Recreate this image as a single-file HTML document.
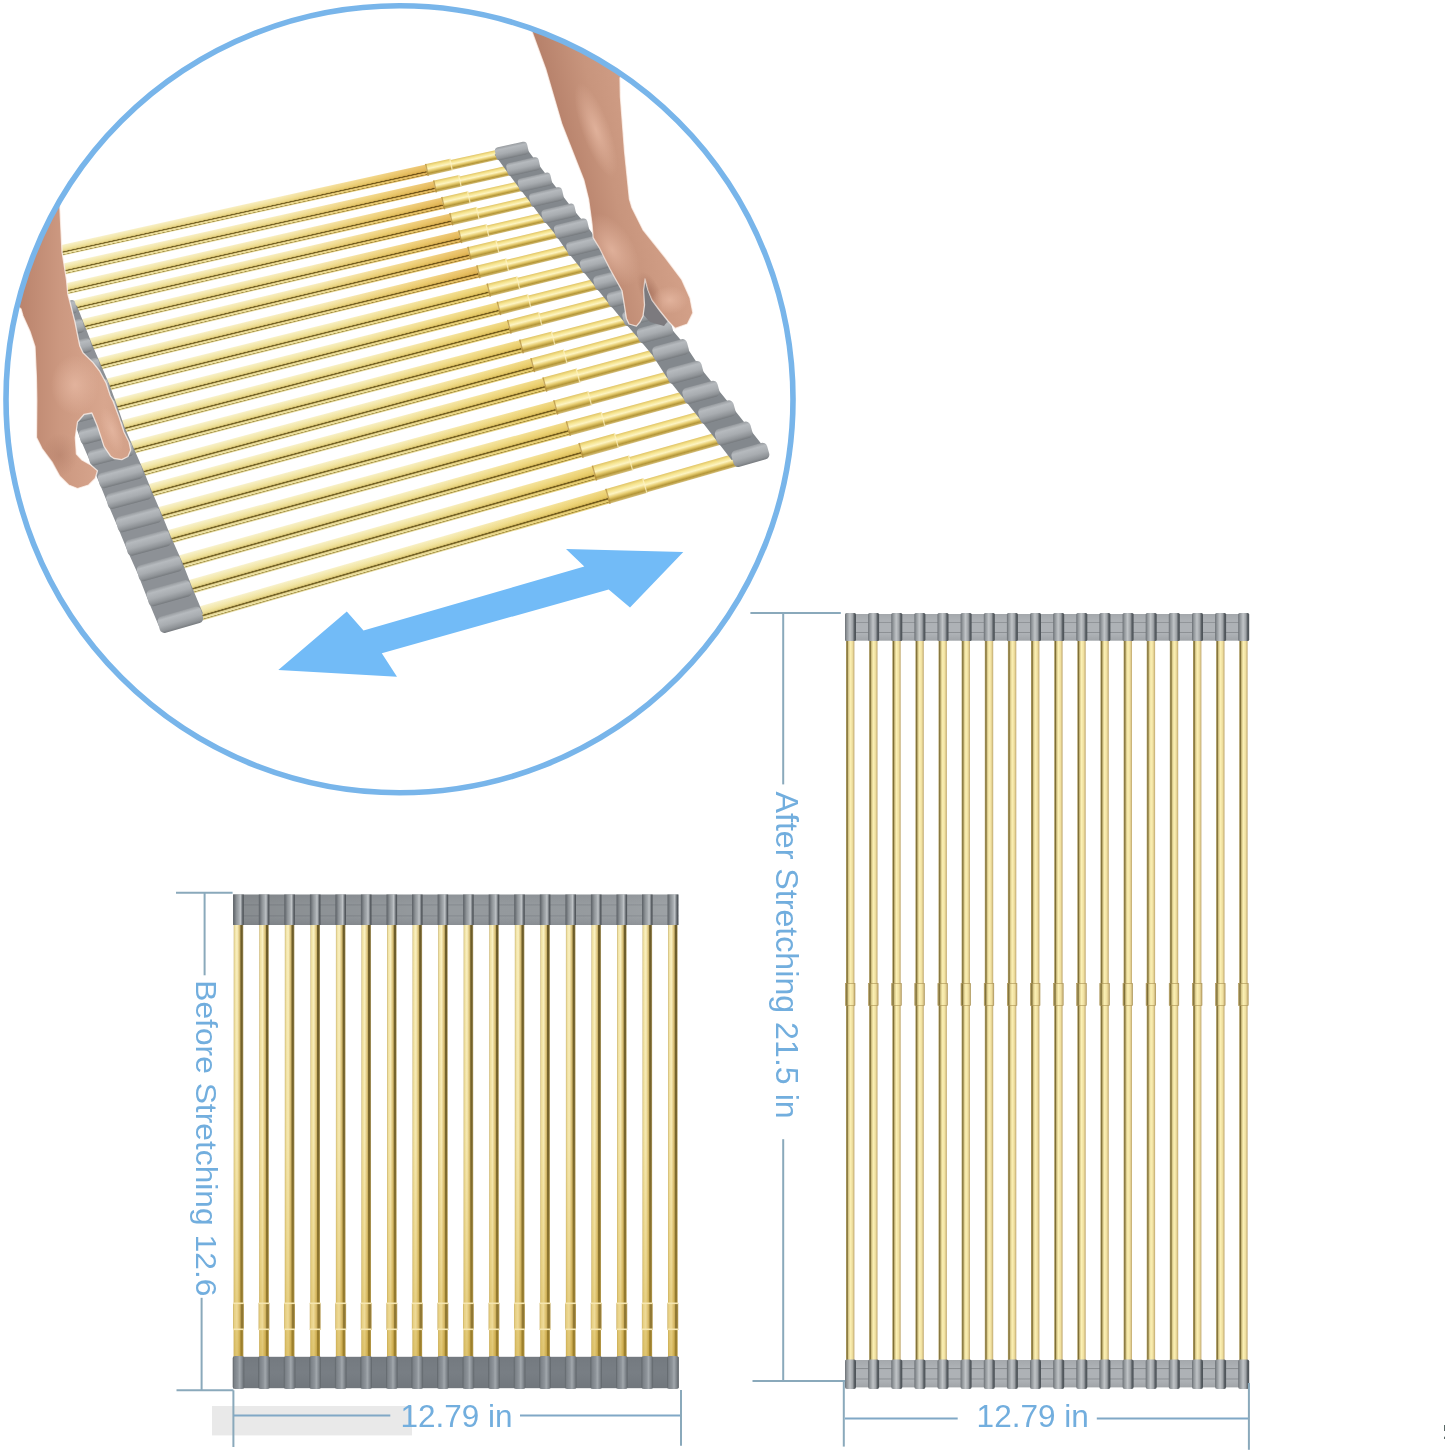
<!DOCTYPE html>
<html><head><meta charset="utf-8"><title>Roll-up dish drying rack</title>
<style>html,body{margin:0;padding:0;background:#fff;}svg{display:block;filter:blur(0.45px);}</style></head>
<body>
<svg width="1445" height="1452" viewBox="0 0 1445 1452">
<defs>
<linearGradient id="rodT" x1="0" y1="0" x2="0" y2="1">
 <stop offset="0" stop-color="#f8f2d0"/>
 <stop offset="0.12" stop-color="#f6eec0"/>
 <stop offset="0.35" stop-color="#f2e6a8"/>
 <stop offset="0.52" stop-color="#eadb92"/>
 <stop offset="0.6" stop-color="#d4c074"/>
 <stop offset="0.64" stop-color="#6c5c22"/>
 <stop offset="0.7" stop-color="#857232"/>
 <stop offset="0.75" stop-color="#e4d696"/>
 <stop offset="0.86" stop-color="#eee4aa"/>
 <stop offset="0.9" stop-color="#a08e46"/>
 <stop offset="0.95" stop-color="#dcd094"/>
 <stop offset="1" stop-color="#eee6bc"/>
</linearGradient>
<linearGradient id="rodG" x1="0" y1="0" x2="0" y2="1">
 <stop offset="0" stop-color="#e0c468"/>
 <stop offset="0.2" stop-color="#f6e48e"/>
 <stop offset="0.42" stop-color="#fdf4c2"/>
 <stop offset="0.62" stop-color="#e6cc70"/>
 <stop offset="0.82" stop-color="#b49638"/>
 <stop offset="1" stop-color="#d6c07c"/>
</linearGradient>
<linearGradient id="goldU" x1="0" y1="0" x2="1" y2="0">
 <stop offset="0" stop-color="#ffffff"/>
 <stop offset="0.6" stop-color="#fffaec"/>
 <stop offset="0.85" stop-color="#fae4b0"/>
 <stop offset="1" stop-color="#f4d090"/>
</linearGradient>
<linearGradient id="goldL" x1="0" y1="0" x2="1" y2="0">
 <stop offset="0" stop-color="#ffffff"/>
 <stop offset="0.6" stop-color="#fffdf2"/>
 <stop offset="0.85" stop-color="#fcf0c4"/>
 <stop offset="1" stop-color="#f8e6a8"/>
</linearGradient>
<linearGradient id="tubeT" x1="0" y1="0" x2="0" y2="1">
 <stop offset="0" stop-color="#989ca0"/>
 <stop offset="0.2" stop-color="#b6babe"/>
 <stop offset="0.55" stop-color="#a8acb0"/>
 <stop offset="0.85" stop-color="#8e9296"/>
 <stop offset="1" stop-color="#767a7e"/>
</linearGradient>
<linearGradient id="skinR" gradientUnits="userSpaceOnUse" x1="530" y1="60" x2="700" y2="20">
 <stop offset="0" stop-color="#b27c66"/>
 <stop offset="0.3" stop-color="#c8957d"/>
 <stop offset="0.6" stop-color="#d4a189"/>
 <stop offset="1" stop-color="#d9a890"/>
</linearGradient>
<linearGradient id="skinL" gradientUnits="userSpaceOnUse" x1="10" y1="0" x2="135" y2="0">
 <stop offset="0" stop-color="#b67f68"/>
 <stop offset="0.4" stop-color="#cc9880"/>
 <stop offset="0.75" stop-color="#d8a68e"/>
 <stop offset="1" stop-color="#d2a088"/>
</linearGradient>
<radialGradient id="hl" cx="0.5" cy="0.5" r="0.5">
 <stop offset="0" stop-color="#e6b8a2" stop-opacity="0.8"/>
 <stop offset="1" stop-color="#e6b8a2" stop-opacity="0"/>
</radialGradient>
<radialGradient id="sh" cx="0.5" cy="0.5" r="0.5">
 <stop offset="0" stop-color="#9a6450" stop-opacity="0.55"/>
 <stop offset="1" stop-color="#9a6450" stop-opacity="0"/>
</radialGradient>
<clipPath id="rhc"><polygon id="rhpoly" points="522,10 640,40 620,78 620.4,97 624.6,152 629.4,199 632,207.7 643,229.8 665.2,257.5 681.8,279.7 690,298 692.9,312.9 687.4,324 675.2,328.4 668,321 660,311 652,300 648,290 645,279 643.5,290 644.5,305 643,316 640,322 636.4,326.2 629,324 626.4,318.4 624,303 622,290.7 615,278 609.8,268.6 599.9,248.7 593.2,237.6 592,224 588.6,199.3 583.8,180 562,124.6 545.7,69 532.5,33"/></clipPath>
<clipPath id="lhc"><polygon points="0,150 58,150 60,210 62,251.6 66.5,280 67.8,294 69.8,301.5 74.8,321.3 79.8,346 83,352.7 93,362.6 99.6,371 106.2,383.3 110.3,395.7 113,401 118.5,415.4 124,432 129,442 130.7,450 128,456.5 121.8,459.7 114,458.5 110.7,456.3 104,446.4 97.5,426.4 91.9,413 84.2,414.3 77.5,422 75.3,437.5 76.4,454 82,460 90.8,465 97.5,470.7 95.2,478.5 88.6,485 77.5,488.5 68.7,485 59.8,476.3 52,461.9 42,448.6 36.5,437.5 36.8,400 36.4,377 35,346.7 30,331.5 23,316 21,309 0,290"/></clipPath>
<clipPath id="circ"><circle cx="399.5" cy="399.3" r="393"/></clipPath>


<linearGradient id="rodV1" x1="0" y1="0" x2="1" y2="0">
 <stop offset="0" stop-color="#c9b476"/>
 <stop offset="0.12" stop-color="#f0e2a4"/>
 <stop offset="0.35" stop-color="#fbf2c4"/>
 <stop offset="0.55" stop-color="#e2cc88"/>
 <stop offset="0.66" stop-color="#c8b06a"/>
 <stop offset="0.74" stop-color="#6e5e2a"/>
 <stop offset="0.88" stop-color="#6a5a28"/>
 <stop offset="1" stop-color="#b6a676"/>
</linearGradient>
<linearGradient id="rodV1g" x1="0" y1="0" x2="0" y2="1">
 <stop offset="0" stop-color="#d8b040" stop-opacity="0"/>
 <stop offset="0.5" stop-color="#d8b040" stop-opacity="0.12"/>
 <stop offset="0.8" stop-color="#d0a838" stop-opacity="0.35"/>
 <stop offset="1" stop-color="#c8a030" stop-opacity="0.55"/>
</linearGradient>
<linearGradient id="rodV2" x1="0" y1="0" x2="1" y2="0">
 <stop offset="0" stop-color="#b8a870"/>
 <stop offset="0.15" stop-color="#7c6c34"/>
 <stop offset="0.3" stop-color="#d8c888"/>
 <stop offset="0.5" stop-color="#fbf0b4"/>
 <stop offset="0.75" stop-color="#f0e0a0"/>
 <stop offset="1" stop-color="#c0a870"/>
</linearGradient>
<linearGradient id="sleeveV" x1="0" y1="0" x2="1" y2="0">
 <stop offset="0" stop-color="#5c6166"/>
 <stop offset="0.12" stop-color="#6e7378"/>
 <stop offset="0.3" stop-color="#8d9296"/>
 <stop offset="0.55" stop-color="#a8adb1"/>
 <stop offset="0.68" stop-color="#c0c4c7"/>
 <stop offset="0.8" stop-color="#8a8f94"/>
 <stop offset="0.9" stop-color="#5a5f64"/>
 <stop offset="1" stop-color="#4e5358"/>
</linearGradient>
<linearGradient id="sleeveB" x1="0" y1="0" x2="1" y2="0">
 <stop offset="0" stop-color="#5e6469"/>
 <stop offset="0.15" stop-color="#7c8288"/>
 <stop offset="0.45" stop-color="#8e949a"/>
 <stop offset="0.6" stop-color="#a2a8ad"/>
 <stop offset="0.8" stop-color="#848a90"/>
 <stop offset="1" stop-color="#5e6469"/>
</linearGradient>
<linearGradient id="sleeveR" x1="0" y1="0" x2="1" y2="0">
 <stop offset="0" stop-color="#6a6f74"/>
 <stop offset="0.15" stop-color="#8e9397"/>
 <stop offset="0.45" stop-color="#c0c4c7"/>
 <stop offset="0.7" stop-color="#9ea2a6"/>
 <stop offset="0.85" stop-color="#5a6065"/>
 <stop offset="1" stop-color="#4a5055"/>
</linearGradient>
<linearGradient id="stripR" x1="0" y1="0" x2="0" y2="1">
 <stop offset="0" stop-color="#a4a8ac"/>
 <stop offset="0.28" stop-color="#aeb2b6"/>
 <stop offset="0.31" stop-color="#8a8e92"/>
 <stop offset="0.35" stop-color="#aeb2b6"/>
 <stop offset="0.66" stop-color="#aeb2b6"/>
 <stop offset="0.69" stop-color="#8a8e92"/>
 <stop offset="0.73" stop-color="#aeb2b6"/>
 <stop offset="1" stop-color="#a0a4a8"/>
</linearGradient>
<linearGradient id="stripShade" x1="0" y1="0" x2="1" y2="0">
 <stop offset="0" stop-color="#000" stop-opacity="0.1"/>
 <stop offset="0.5" stop-color="#000" stop-opacity="0"/>
 <stop offset="1" stop-color="#fff" stop-opacity="0.08"/>
</linearGradient>
<linearGradient id="stripB" x1="0" y1="0" x2="0" y2="1">
 <stop offset="0" stop-color="#747a80"/>
 <stop offset="0.5" stop-color="#787e84"/>
 <stop offset="1" stop-color="#71777d"/>
</linearGradient>
<linearGradient id="stripH" x1="0" y1="0" x2="0" y2="1">
 <stop offset="0" stop-color="#8e9398"/>
 <stop offset="0.3" stop-color="#969b9f"/>
 <stop offset="0.34" stop-color="#878c91"/>
 <stop offset="0.38" stop-color="#969b9f"/>
 <stop offset="0.66" stop-color="#969b9f"/>
 <stop offset="0.7" stop-color="#878c91"/>
 <stop offset="0.74" stop-color="#969b9f"/>
 <stop offset="1" stop-color="#8a8f94"/>
</linearGradient>
</defs>
<rect width="1445" height="1452" fill="#ffffff"/>
<g clip-path="url(#circ)">
<g transform="translate(50,253) rotate(-12.438)"><rect x="0" y="-5.5" width="386.3" height="11" fill="url(#rodT)"/><rect x="0" y="-5.5" width="386.3" height="11" fill="url(#goldU)" style="mix-blend-mode:multiply"/><rect x="385.3" y="-5.8" width="26" height="11.6" fill="url(#rodG)"/><rect x="385.3" y="-6.1" width="1.4" height="12.2" fill="#b08a3a" opacity="0.7"/><rect x="410.1" y="-6.1" width="1.2" height="12.2" fill="#fff4c0" opacity="0.8"/><rect x="411.3" y="-4.5" width="48" height="9.9" fill="url(#rodG)"/></g>
<g transform="translate(52,271.7) rotate(-12.549)"><rect x="0" y="-5.6" width="392.7" height="11.2" fill="url(#rodT)"/><rect x="0" y="-5.6" width="392.7" height="11.2" fill="url(#goldU)" style="mix-blend-mode:multiply"/><rect x="391.7" y="-5.9" width="26.8" height="11.8" fill="url(#rodG)"/><rect x="391.7" y="-6.2" width="1.4" height="12.4" fill="#b08a3a" opacity="0.7"/><rect x="417.3" y="-6.2" width="1.2" height="12.4" fill="#fff4c0" opacity="0.8"/><rect x="418.5" y="-4.5" width="50.7" height="10.1" fill="url(#rodG)"/></g>
<g transform="translate(55,291.5) rotate(-12.820)"><rect x="0" y="-5.7" width="398.4" height="11.4" fill="url(#rodT)"/><rect x="0" y="-5.7" width="398.4" height="11.4" fill="url(#goldU)" style="mix-blend-mode:multiply"/><rect x="397.4" y="-6" width="27.6" height="12" fill="url(#rodG)"/><rect x="397.4" y="-6.3" width="1.4" height="12.6" fill="#b08a3a" opacity="0.7"/><rect x="423.8" y="-6.3" width="1.2" height="12.6" fill="#fff4c0" opacity="0.8"/><rect x="425" y="-4.6" width="53.4" height="10.3" fill="url(#rodG)"/></g>
<g transform="translate(75,306.1) rotate(-13.000)"><rect x="0" y="-5.8" width="386.5" height="11.6" fill="url(#rodT)"/><rect x="0" y="-5.8" width="386.5" height="11.6" fill="url(#goldU)" style="mix-blend-mode:multiply"/><rect x="385.5" y="-6.1" width="28.4" height="12.2" fill="url(#rodG)"/><rect x="385.5" y="-6.4" width="1.4" height="12.8" fill="#b08a3a" opacity="0.7"/><rect x="412.7" y="-6.4" width="1.2" height="12.8" fill="#fff4c0" opacity="0.8"/><rect x="413.9" y="-4.7" width="56.1" height="10.5" fill="url(#rodG)"/></g>
<g transform="translate(82.5,325) rotate(-13.157)"><rect x="0" y="-5.9" width="388.2" height="11.8" fill="url(#rodT)"/><rect x="0" y="-5.9" width="388.2" height="11.8" fill="url(#goldU)" style="mix-blend-mode:multiply"/><rect x="387.2" y="-6.2" width="29.2" height="12.4" fill="url(#rodG)"/><rect x="387.2" y="-6.5" width="1.4" height="13" fill="#b08a3a" opacity="0.7"/><rect x="415.2" y="-6.5" width="1.2" height="13" fill="#fff4c0" opacity="0.8"/><rect x="416.4" y="-4.8" width="58.8" height="10.6" fill="url(#rodG)"/></g>
<g transform="translate(90,344.3) rotate(-13.501)"><rect x="0" y="-6" width="390.5" height="12" fill="url(#rodT)"/><rect x="0" y="-6" width="390.5" height="12" fill="url(#goldU)" style="mix-blend-mode:multiply"/><rect x="389.5" y="-6.3" width="30" height="12.6" fill="url(#rodG)"/><rect x="389.5" y="-6.6" width="1.4" height="13.2" fill="#b08a3a" opacity="0.7"/><rect x="418.3" y="-6.6" width="1.2" height="13.2" fill="#fff4c0" opacity="0.8"/><rect x="419.5" y="-4.9" width="61.5" height="10.8" fill="url(#rodG)"/></g>
<g transform="translate(98.5,364.1) rotate(-13.666)"><rect x="0" y="-6.1" width="391.3" height="12.2" fill="url(#rodT)"/><rect x="0" y="-6.1" width="391.3" height="12.2" fill="url(#goldU)" style="mix-blend-mode:multiply"/><rect x="390.3" y="-6.4" width="30.8" height="12.8" fill="url(#rodG)"/><rect x="390.3" y="-6.7" width="1.4" height="13.4" fill="#b08a3a" opacity="0.7"/><rect x="419.9" y="-6.7" width="1.2" height="13.4" fill="#fff4c0" opacity="0.8"/><rect x="421.1" y="-5" width="64.2" height="11" fill="url(#rodG)"/></g>
<g transform="translate(107.5,384.7) rotate(-13.930)"><rect x="0" y="-6.2" width="393.1" height="12.4" fill="url(#rodT)"/><rect x="0" y="-6.2" width="393.1" height="12.4" fill="url(#goldL)" style="mix-blend-mode:multiply"/><rect x="392.1" y="-6.5" width="31.6" height="13" fill="url(#rodG)"/><rect x="392.1" y="-6.8" width="1.4" height="13.6" fill="#b08a3a" opacity="0.7"/><rect x="422.5" y="-6.8" width="1.2" height="13.6" fill="#fff4c0" opacity="0.8"/><rect x="423.7" y="-5.1" width="66.9" height="11.2" fill="url(#rodG)"/></g>
<g transform="translate(115,405.3) rotate(-14.170)"><rect x="0" y="-6.3" width="396.3" height="12.6" fill="url(#rodT)"/><rect x="0" y="-6.3" width="396.3" height="12.6" fill="url(#goldL)" style="mix-blend-mode:multiply"/><rect x="395.3" y="-6.6" width="32.4" height="13.2" fill="url(#rodG)"/><rect x="395.3" y="-6.9" width="1.4" height="13.8" fill="#b08a3a" opacity="0.7"/><rect x="426.5" y="-6.9" width="1.2" height="13.8" fill="#fff4c0" opacity="0.8"/><rect x="427.7" y="-5.2" width="69.6" height="11.4" fill="url(#rodG)"/></g>
<g transform="translate(122.4,426.7) rotate(-14.490)"><rect x="0" y="-6.4" width="399.9" height="12.9" fill="url(#rodT)"/><rect x="0" y="-6.4" width="399.9" height="12.9" fill="url(#goldL)" style="mix-blend-mode:multiply"/><rect x="398.9" y="-6.7" width="33.2" height="13.5" fill="url(#rodG)"/><rect x="398.9" y="-7" width="1.4" height="14.1" fill="#b08a3a" opacity="0.7"/><rect x="430.9" y="-7" width="1.2" height="14.1" fill="#fff4c0" opacity="0.8"/><rect x="432.1" y="-5.3" width="72.3" height="11.6" fill="url(#rodG)"/></g>
<g transform="translate(131.5,447.7) rotate(-14.560)"><rect x="0" y="-6.5" width="403.2" height="13.1" fill="url(#rodT)"/><rect x="0" y="-6.5" width="403.2" height="13.1" fill="url(#goldL)" style="mix-blend-mode:multiply"/><rect x="402.2" y="-6.8" width="34" height="13.7" fill="url(#rodG)"/><rect x="402.2" y="-7.1" width="1.4" height="14.3" fill="#b08a3a" opacity="0.7"/><rect x="435" y="-7.1" width="1.2" height="14.3" fill="#fff4c0" opacity="0.8"/><rect x="436.2" y="-5.4" width="75" height="11.8" fill="url(#rodG)"/></g>
<g transform="translate(141.3,470) rotate(-15.010)"><rect x="0" y="-6.6" width="405.6" height="13.3" fill="url(#rodT)"/><rect x="0" y="-6.6" width="405.6" height="13.3" fill="url(#goldL)" style="mix-blend-mode:multiply"/><rect x="404.6" y="-6.9" width="34.8" height="13.9" fill="url(#rodG)"/><rect x="404.6" y="-7.2" width="1.4" height="14.5" fill="#b08a3a" opacity="0.7"/><rect x="438.2" y="-7.2" width="1.2" height="14.5" fill="#fff4c0" opacity="0.8"/><rect x="439.4" y="-5.5" width="77.7" height="11.9" fill="url(#rodG)"/></g>
<g transform="translate(149.6,490.7) rotate(-15.049)"><rect x="0" y="-6.7" width="409.6" height="13.5" fill="url(#rodT)"/><rect x="0" y="-6.7" width="409.6" height="13.5" fill="url(#goldL)" style="mix-blend-mode:multiply"/><rect x="408.6" y="-7" width="35.6" height="14.1" fill="url(#rodG)"/><rect x="408.6" y="-7.3" width="1.4" height="14.7" fill="#b08a3a" opacity="0.7"/><rect x="443" y="-7.3" width="1.2" height="14.7" fill="#fff4c0" opacity="0.8"/><rect x="444.2" y="-5.6" width="80.4" height="12.1" fill="url(#rodG)"/></g>
<g transform="translate(159.5,513.8) rotate(-15.043)"><rect x="0" y="-6.8" width="410.6" height="13.7" fill="url(#rodT)"/><rect x="0" y="-6.8" width="410.6" height="13.7" fill="url(#goldL)" style="mix-blend-mode:multiply"/><rect x="409.6" y="-7.1" width="36.4" height="14.3" fill="url(#rodG)"/><rect x="409.6" y="-7.4" width="1.4" height="14.9" fill="#b08a3a" opacity="0.7"/><rect x="444.8" y="-7.4" width="1.2" height="14.9" fill="#fff4c0" opacity="0.8"/><rect x="446" y="-5.7" width="83.1" height="12.3" fill="url(#rodG)"/></g>
<g transform="translate(169,537) rotate(-15.197)"><rect x="0" y="-6.9" width="414.1" height="13.9" fill="url(#rodT)"/><rect x="0" y="-6.9" width="414.1" height="13.9" fill="url(#goldL)" style="mix-blend-mode:multiply"/><rect x="413.1" y="-7.2" width="37.2" height="14.5" fill="url(#rodG)"/><rect x="413.1" y="-7.5" width="1.4" height="15.1" fill="#b08a3a" opacity="0.7"/><rect x="449.1" y="-7.5" width="1.2" height="15.1" fill="#fff4c0" opacity="0.8"/><rect x="450.3" y="-5.7" width="85.8" height="12.5" fill="url(#rodG)"/></g>
<g transform="translate(180.3,562.3) rotate(-15.612)"><rect x="0" y="-7" width="416.4" height="14.1" fill="url(#rodT)"/><rect x="0" y="-7" width="416.4" height="14.1" fill="url(#goldL)" style="mix-blend-mode:multiply"/><rect x="415.4" y="-7.3" width="38" height="14.7" fill="url(#rodG)"/><rect x="415.4" y="-7.6" width="1.4" height="15.3" fill="#b08a3a" opacity="0.7"/><rect x="452.2" y="-7.6" width="1.2" height="15.3" fill="#fff4c0" opacity="0.8"/><rect x="453.4" y="-5.8" width="88.5" height="12.7" fill="url(#rodG)"/></g>
<g transform="translate(190,587) rotate(-15.737)"><rect x="0" y="-7.1" width="420.5" height="14.3" fill="url(#rodT)"/><rect x="0" y="-7.1" width="420.5" height="14.3" fill="url(#goldL)" style="mix-blend-mode:multiply"/><rect x="419.5" y="-7.4" width="38.8" height="14.9" fill="url(#rodG)"/><rect x="419.5" y="-7.7" width="1.4" height="15.5" fill="#b08a3a" opacity="0.7"/><rect x="457.1" y="-7.7" width="1.2" height="15.5" fill="#fff4c0" opacity="0.8"/><rect x="458.3" y="-5.9" width="91.2" height="12.9" fill="url(#rodG)"/></g>
<g transform="translate(201,613.5) rotate(-16.077)"><rect x="0" y="-7.2" width="423.8" height="14.5" fill="url(#rodT)"/><rect x="0" y="-7.2" width="423.8" height="14.5" fill="url(#goldL)" style="mix-blend-mode:multiply"/><rect x="422.8" y="-7.5" width="39.6" height="15.1" fill="url(#rodG)"/><rect x="422.8" y="-7.8" width="1.4" height="15.7" fill="#b08a3a" opacity="0.7"/><rect x="461.2" y="-7.8" width="1.2" height="15.7" fill="#fff4c0" opacity="0.8"/><rect x="462.4" y="-6" width="93.9" height="13.1" fill="url(#rodG)"/></g>
<polygon points="494.6,154.5 506,170.2 517.5,185.8 529,200.8 541.3,217.3 553.8,232.5 566.1,249.9 579.7,267.1 593.2,284.1 606.8,301 622.3,319.7 636.8,336.6 652.3,355 666.5,377 682.4,397 698.3,417 715,438.5 731.6,460 766.2,450 749.4,428.8 732.5,407.4 716.5,387.7 700.4,367.9 685.9,346 670.2,327.6 655.5,311.1 639.8,292.5 626.1,275.8 612.4,259 598.6,242 586.1,224.8 573.4,209.8 560.9,193.4 549.2,178.6 537.5,163.2 525.8,147.6" fill="#83888d"/>
<g transform="translate(495.6,154.5) rotate(-12.438)"><rect x="0" y="-6.5" width="33" height="13" rx="3.7" fill="url(#tubeT)"/></g>
<g transform="translate(507,170.2) rotate(-12.549)"><rect x="0" y="-6.6" width="33.2" height="13.2" rx="3.8" fill="url(#tubeT)"/></g>
<g transform="translate(518.5,185.8) rotate(-12.820)"><rect x="0" y="-6.7" width="33.5" height="13.5" rx="3.8" fill="url(#tubeT)"/></g>
<g transform="translate(530,200.8) rotate(-13.000)"><rect x="0" y="-6.9" width="33.7" height="13.7" rx="3.9" fill="url(#tubeT)"/></g>
<g transform="translate(542.3,217.3) rotate(-13.157)"><rect x="0" y="-7" width="33.9" height="13.9" rx="4" fill="url(#tubeT)"/></g>
<g transform="translate(554.8,232.5) rotate(-13.501)"><rect x="0" y="-7.1" width="34.2" height="14.2" rx="4.1" fill="url(#tubeT)"/></g>
<g transform="translate(567.1,249.9) rotate(-13.666)"><rect x="0" y="-7.2" width="34.4" height="14.4" rx="4.1" fill="url(#tubeT)"/></g>
<g transform="translate(580.7,267.1) rotate(-13.930)"><rect x="0" y="-7.3" width="34.6" height="14.6" rx="4.2" fill="url(#tubeT)"/></g>
<g transform="translate(594.2,284.1) rotate(-14.170)"><rect x="0" y="-7.4" width="34.9" height="14.9" rx="4.3" fill="url(#tubeT)"/></g>
<g transform="translate(607.8,301) rotate(-14.490)"><rect x="0" y="-7.6" width="35.1" height="15.1" rx="4.3" fill="url(#tubeT)"/></g>
<g transform="translate(623.3,319.7) rotate(-14.560)"><rect x="0" y="-7.7" width="35.4" height="15.4" rx="4.4" fill="url(#tubeT)"/></g>
<g transform="translate(637.8,336.6) rotate(-15.010)"><rect x="0" y="-7.8" width="35.6" height="15.6" rx="4.5" fill="url(#tubeT)"/></g>
<g transform="translate(653.3,355) rotate(-15.049)"><rect x="0" y="-7.9" width="35.8" height="15.8" rx="4.5" fill="url(#tubeT)"/></g>
<g transform="translate(667.5,377) rotate(-15.043)"><rect x="0" y="-8" width="36.1" height="16.1" rx="4.6" fill="url(#tubeT)"/></g>
<g transform="translate(683.4,397) rotate(-15.197)"><rect x="0" y="-8.1" width="36.3" height="16.3" rx="4.7" fill="url(#tubeT)"/></g>
<g transform="translate(699.3,417) rotate(-15.612)"><rect x="0" y="-8.3" width="36.5" height="16.5" rx="4.7" fill="url(#tubeT)"/></g>
<g transform="translate(716,438.5) rotate(-15.737)"><rect x="0" y="-8.4" width="36.8" height="16.8" rx="4.8" fill="url(#tubeT)"/></g>
<g transform="translate(732.6,460) rotate(-16.077)"><rect x="0" y="-8.5" width="37" height="17" rx="4.9" fill="url(#tubeT)"/></g>
<polygon points="52,253 54,271.7 57,291.5 77,306.1 84.5,325 92,344.3 100.5,364.1 109.5,384.7 117,405.3 124.4,426.7 133.5,447.7 143.3,470 151.6,490.7 161.5,513.8 171,537 182.3,562.3 192,587 203,613.5 158.7,625.7 147.6,598.9 137.9,574.1 126.5,548.5 117,525.2 107.1,502.1 98.8,481.4 88.9,458.8 79.8,437.7 72.3,416.1 64.8,395.3 55.7,374.5 47.2,354.6 39.7,335 32.1,316 12.1,301.3 9.1,281.3 7,262.5" fill="#8d9196"/>
<g transform="translate(51,253) rotate(-12.438)"><rect x="-45" y="-6.5" width="45" height="13" rx="3.7" fill="url(#tubeT)"/></g>
<g transform="translate(53,271.7) rotate(-12.549)"><rect x="-45" y="-6.6" width="45" height="13.2" rx="3.8" fill="url(#tubeT)"/></g>
<g transform="translate(56,291.5) rotate(-12.820)"><rect x="-45" y="-6.7" width="45" height="13.5" rx="3.8" fill="url(#tubeT)"/></g>
<g transform="translate(76,306.1) rotate(-13.000)"><rect x="-45" y="-6.9" width="45" height="13.7" rx="3.9" fill="url(#tubeT)"/></g>
<g transform="translate(83.5,325) rotate(-13.157)"><rect x="-45" y="-7" width="45" height="13.9" rx="4" fill="url(#tubeT)"/></g>
<g transform="translate(91,344.3) rotate(-13.501)"><rect x="-45" y="-7.1" width="45" height="14.2" rx="4.1" fill="url(#tubeT)"/></g>
<g transform="translate(99.5,364.1) rotate(-13.666)"><rect x="-45" y="-7.2" width="45" height="14.4" rx="4.1" fill="url(#tubeT)"/></g>
<g transform="translate(108.5,384.7) rotate(-13.930)"><rect x="-45" y="-7.3" width="45" height="14.6" rx="4.2" fill="url(#tubeT)"/></g>
<g transform="translate(116,405.3) rotate(-14.170)"><rect x="-45" y="-7.4" width="45" height="14.9" rx="4.3" fill="url(#tubeT)"/></g>
<g transform="translate(123.4,426.7) rotate(-14.490)"><rect x="-45" y="-7.6" width="45" height="15.1" rx="4.3" fill="url(#tubeT)"/></g>
<g transform="translate(132.5,447.7) rotate(-14.560)"><rect x="-45" y="-7.7" width="45" height="15.4" rx="4.4" fill="url(#tubeT)"/></g>
<g transform="translate(142.3,470) rotate(-15.010)"><rect x="-45" y="-7.8" width="45" height="15.6" rx="4.5" fill="url(#tubeT)"/></g>
<g transform="translate(150.6,490.7) rotate(-15.049)"><rect x="-45" y="-7.9" width="45" height="15.8" rx="4.5" fill="url(#tubeT)"/></g>
<g transform="translate(160.5,513.8) rotate(-15.043)"><rect x="-45" y="-8" width="45" height="16.1" rx="4.6" fill="url(#tubeT)"/></g>
<g transform="translate(170,537) rotate(-15.197)"><rect x="-45" y="-8.1" width="45" height="16.3" rx="4.7" fill="url(#tubeT)"/></g>
<g transform="translate(181.3,562.3) rotate(-15.612)"><rect x="-45" y="-8.3" width="45" height="16.5" rx="4.7" fill="url(#tubeT)"/></g>
<g transform="translate(191,587) rotate(-15.737)"><rect x="-45" y="-8.4" width="45" height="16.8" rx="4.8" fill="url(#tubeT)"/></g>
<g transform="translate(202,613.5) rotate(-16.077)"><rect x="-45" y="-8.5" width="45" height="17" rx="4.9" fill="url(#tubeT)"/></g>
<polygon points="643,274 652,288 660,302 670,318 664,326 650,322 641,312 641,292" fill="#7c7a7e"/>
<polygon points="522,10 640,40 620,78 620.4,97 624.6,152 629.4,199 632,207.7 643,229.8 665.2,257.5 681.8,279.7 690,298 692.9,312.9 687.4,324 675.2,328.4 668,321 660,311 652,300 648,290 645,279 643.5,290 644.5,305 643,316 640,322 636.4,326.2 629,324 626.4,318.4 624,303 622,290.7 615,278 609.8,268.6 599.9,248.7 593.2,237.6 592,224 588.6,199.3 583.8,180 562,124.6 545.7,69 532.5,33" fill="url(#skinR)" stroke="#fff6f0" stroke-width="1.3" stroke-opacity="0.75" stroke-linejoin="round"/>
<g clip-path="url(#rhc)"><ellipse cx="612" cy="250" rx="22" ry="40" fill="url(#hl)" transform="rotate(-30 612 250)"/><ellipse cx="596" cy="130" rx="14" ry="50" fill="url(#hl)" transform="rotate(-20 596 130)"/><ellipse cx="650" cy="292" rx="10" ry="22" fill="url(#sh)" transform="rotate(-25 650 292)"/><ellipse cx="670" cy="300" rx="18" ry="14" fill="url(#hl)"/></g>
<polygon points="0,150 58,150 60,210 62,251.6 66.5,280 67.8,294 69.8,301.5 74.8,321.3 79.8,346 83,352.7 93,362.6 99.6,371 106.2,383.3 110.3,395.7 113,401 118.5,415.4 124,432 129,442 130.7,450 128,456.5 121.8,459.7 114,458.5 110.7,456.3 104,446.4 97.5,426.4 91.9,413 84.2,414.3 77.5,422 75.3,437.5 76.4,454 82,460 90.8,465 97.5,470.7 95.2,478.5 88.6,485 77.5,488.5 68.7,485 59.8,476.3 52,461.9 42,448.6 36.5,437.5 36.8,400 36.4,377 35,346.7 30,331.5 23,316 21,309 0,290" fill="url(#skinL)" stroke="#fff6f0" stroke-width="1.3" stroke-opacity="0.75" stroke-linejoin="round"/>
<g clip-path="url(#lhc)"><ellipse cx="75" cy="385" rx="24" ry="30" fill="url(#hl)"/><ellipse cx="112" cy="430" rx="9" ry="24" fill="url(#hl)" transform="rotate(-20 112 430)"/><ellipse cx="60" cy="455" rx="18" ry="22" fill="url(#sh)" opacity="0.5"/></g>
</g>
<polygon points="278.3,670 346.8,611.6 363.5,630.5 584.3,566.5 566,548.9 683.3,552 630,607.6 608.7,589.4 381.8,653.3 397,676.8" fill="#72bbf7"/>
<circle cx="399.5" cy="399.3" r="393.5" fill="none" stroke="#78b5ea" stroke-width="5.6"/>
<rect x="233" y="894.5" width="445.8" height="30.5" fill="url(#stripH)"/>
<rect x="233" y="894.5" width="445.8" height="30.5" fill="url(#stripShade)"/>
<rect x="233" y="1356.8" width="445.8" height="31.4" fill="url(#stripB)"/>
<rect x="233.7" y="924" width="9.6" height="434" fill="url(#rodV1)"/>
<rect x="233.7" y="924" width="9.6" height="434" fill="url(#rodV1g)"/>
<rect x="233.1" y="1303" width="10.8" height="27" fill="url(#rodV1)"/>
<rect x="233.1" y="1303" width="10.8" height="27" fill="#d8b048" opacity="0.35"/>
<rect x="233.1" y="1302.5" width="10.8" height="1.6" fill="#f6e6b0"/>
<rect x="233.1" y="1328.5" width="10.8" height="1.6" fill="#f6e6b0"/>
<rect x="233.2" y="894.5" width="10.6" height="30.5" fill="url(#sleeveV)"/>
<rect x="232.7" y="1356" width="11.6" height="33" rx="2.5" fill="url(#sleeveB)"/>
<rect x="259.2" y="924" width="9.6" height="434" fill="url(#rodV1)"/>
<rect x="259.2" y="924" width="9.6" height="434" fill="url(#rodV1g)"/>
<rect x="258.6" y="1303" width="10.8" height="27" fill="url(#rodV1)"/>
<rect x="258.6" y="1303" width="10.8" height="27" fill="#d8b048" opacity="0.35"/>
<rect x="258.6" y="1302.5" width="10.8" height="1.6" fill="#f6e6b0"/>
<rect x="258.6" y="1328.5" width="10.8" height="1.6" fill="#f6e6b0"/>
<rect x="258.8" y="894.5" width="10.6" height="30.5" fill="url(#sleeveV)"/>
<rect x="258.2" y="1356" width="11.6" height="33" rx="2.5" fill="url(#sleeveB)"/>
<rect x="284.8" y="924" width="9.6" height="434" fill="url(#rodV1)"/>
<rect x="284.8" y="924" width="9.6" height="434" fill="url(#rodV1g)"/>
<rect x="284.2" y="1303" width="10.8" height="27" fill="url(#rodV1)"/>
<rect x="284.2" y="1303" width="10.8" height="27" fill="#d8b048" opacity="0.35"/>
<rect x="284.2" y="1302.5" width="10.8" height="1.6" fill="#f6e6b0"/>
<rect x="284.2" y="1328.5" width="10.8" height="1.6" fill="#f6e6b0"/>
<rect x="284.3" y="894.5" width="10.6" height="30.5" fill="url(#sleeveV)"/>
<rect x="283.8" y="1356" width="11.6" height="33" rx="2.5" fill="url(#sleeveB)"/>
<rect x="310.4" y="924" width="9.6" height="434" fill="url(#rodV1)"/>
<rect x="310.4" y="924" width="9.6" height="434" fill="url(#rodV1g)"/>
<rect x="309.8" y="1303" width="10.8" height="27" fill="url(#rodV1)"/>
<rect x="309.8" y="1303" width="10.8" height="27" fill="#d8b048" opacity="0.35"/>
<rect x="309.8" y="1302.5" width="10.8" height="1.6" fill="#f6e6b0"/>
<rect x="309.8" y="1328.5" width="10.8" height="1.6" fill="#f6e6b0"/>
<rect x="309.9" y="894.5" width="10.6" height="30.5" fill="url(#sleeveV)"/>
<rect x="309.4" y="1356" width="11.6" height="33" rx="2.5" fill="url(#sleeveB)"/>
<rect x="335.9" y="924" width="9.6" height="434" fill="url(#rodV1)"/>
<rect x="335.9" y="924" width="9.6" height="434" fill="url(#rodV1g)"/>
<rect x="335.3" y="1303" width="10.8" height="27" fill="url(#rodV1)"/>
<rect x="335.3" y="1303" width="10.8" height="27" fill="#d8b048" opacity="0.35"/>
<rect x="335.3" y="1302.5" width="10.8" height="1.6" fill="#f6e6b0"/>
<rect x="335.3" y="1328.5" width="10.8" height="1.6" fill="#f6e6b0"/>
<rect x="335.4" y="894.5" width="10.6" height="30.5" fill="url(#sleeveV)"/>
<rect x="334.9" y="1356" width="11.6" height="33" rx="2.5" fill="url(#sleeveB)"/>
<rect x="361.4" y="924" width="9.6" height="434" fill="url(#rodV1)"/>
<rect x="361.4" y="924" width="9.6" height="434" fill="url(#rodV1g)"/>
<rect x="360.8" y="1303" width="10.8" height="27" fill="url(#rodV1)"/>
<rect x="360.8" y="1303" width="10.8" height="27" fill="#d8b048" opacity="0.35"/>
<rect x="360.8" y="1302.5" width="10.8" height="1.6" fill="#f6e6b0"/>
<rect x="360.8" y="1328.5" width="10.8" height="1.6" fill="#f6e6b0"/>
<rect x="360.9" y="894.5" width="10.6" height="30.5" fill="url(#sleeveV)"/>
<rect x="360.4" y="1356" width="11.6" height="33" rx="2.5" fill="url(#sleeveB)"/>
<rect x="387" y="924" width="9.6" height="434" fill="url(#rodV1)"/>
<rect x="387" y="924" width="9.6" height="434" fill="url(#rodV1g)"/>
<rect x="386.4" y="1303" width="10.8" height="27" fill="url(#rodV1)"/>
<rect x="386.4" y="1303" width="10.8" height="27" fill="#d8b048" opacity="0.35"/>
<rect x="386.4" y="1302.5" width="10.8" height="1.6" fill="#f6e6b0"/>
<rect x="386.4" y="1328.5" width="10.8" height="1.6" fill="#f6e6b0"/>
<rect x="386.5" y="894.5" width="10.6" height="30.5" fill="url(#sleeveV)"/>
<rect x="386" y="1356" width="11.6" height="33" rx="2.5" fill="url(#sleeveB)"/>
<rect x="412.5" y="924" width="9.6" height="434" fill="url(#rodV1)"/>
<rect x="412.5" y="924" width="9.6" height="434" fill="url(#rodV1g)"/>
<rect x="411.9" y="1303" width="10.8" height="27" fill="url(#rodV1)"/>
<rect x="411.9" y="1303" width="10.8" height="27" fill="#d8b048" opacity="0.35"/>
<rect x="411.9" y="1302.5" width="10.8" height="1.6" fill="#f6e6b0"/>
<rect x="411.9" y="1328.5" width="10.8" height="1.6" fill="#f6e6b0"/>
<rect x="412" y="894.5" width="10.6" height="30.5" fill="url(#sleeveV)"/>
<rect x="411.5" y="1356" width="11.6" height="33" rx="2.5" fill="url(#sleeveB)"/>
<rect x="438.1" y="924" width="9.6" height="434" fill="url(#rodV1)"/>
<rect x="438.1" y="924" width="9.6" height="434" fill="url(#rodV1g)"/>
<rect x="437.5" y="1303" width="10.8" height="27" fill="url(#rodV1)"/>
<rect x="437.5" y="1303" width="10.8" height="27" fill="#d8b048" opacity="0.35"/>
<rect x="437.5" y="1302.5" width="10.8" height="1.6" fill="#f6e6b0"/>
<rect x="437.5" y="1328.5" width="10.8" height="1.6" fill="#f6e6b0"/>
<rect x="437.6" y="894.5" width="10.6" height="30.5" fill="url(#sleeveV)"/>
<rect x="437.1" y="1356" width="11.6" height="33" rx="2.5" fill="url(#sleeveB)"/>
<rect x="463.6" y="924" width="9.6" height="434" fill="url(#rodV1)"/>
<rect x="463.6" y="924" width="9.6" height="434" fill="url(#rodV1g)"/>
<rect x="463" y="1303" width="10.8" height="27" fill="url(#rodV1)"/>
<rect x="463" y="1303" width="10.8" height="27" fill="#d8b048" opacity="0.35"/>
<rect x="463" y="1302.5" width="10.8" height="1.6" fill="#f6e6b0"/>
<rect x="463" y="1328.5" width="10.8" height="1.6" fill="#f6e6b0"/>
<rect x="463.1" y="894.5" width="10.6" height="30.5" fill="url(#sleeveV)"/>
<rect x="462.6" y="1356" width="11.6" height="33" rx="2.5" fill="url(#sleeveB)"/>
<rect x="489.2" y="924" width="9.6" height="434" fill="url(#rodV1)"/>
<rect x="489.2" y="924" width="9.6" height="434" fill="url(#rodV1g)"/>
<rect x="488.6" y="1303" width="10.8" height="27" fill="url(#rodV1)"/>
<rect x="488.6" y="1303" width="10.8" height="27" fill="#d8b048" opacity="0.35"/>
<rect x="488.6" y="1302.5" width="10.8" height="1.6" fill="#f6e6b0"/>
<rect x="488.6" y="1328.5" width="10.8" height="1.6" fill="#f6e6b0"/>
<rect x="488.7" y="894.5" width="10.6" height="30.5" fill="url(#sleeveV)"/>
<rect x="488.2" y="1356" width="11.6" height="33" rx="2.5" fill="url(#sleeveB)"/>
<rect x="514.8" y="924" width="9.6" height="434" fill="url(#rodV1)"/>
<rect x="514.8" y="924" width="9.6" height="434" fill="url(#rodV1g)"/>
<rect x="514.1" y="1303" width="10.8" height="27" fill="url(#rodV1)"/>
<rect x="514.1" y="1303" width="10.8" height="27" fill="#d8b048" opacity="0.35"/>
<rect x="514.1" y="1302.5" width="10.8" height="1.6" fill="#f6e6b0"/>
<rect x="514.1" y="1328.5" width="10.8" height="1.6" fill="#f6e6b0"/>
<rect x="514.2" y="894.5" width="10.6" height="30.5" fill="url(#sleeveV)"/>
<rect x="513.8" y="1356" width="11.6" height="33" rx="2.5" fill="url(#sleeveB)"/>
<rect x="540.3" y="924" width="9.6" height="434" fill="url(#rodV1)"/>
<rect x="540.3" y="924" width="9.6" height="434" fill="url(#rodV1g)"/>
<rect x="539.7" y="1303" width="10.8" height="27" fill="url(#rodV1)"/>
<rect x="539.7" y="1303" width="10.8" height="27" fill="#d8b048" opacity="0.35"/>
<rect x="539.7" y="1302.5" width="10.8" height="1.6" fill="#f6e6b0"/>
<rect x="539.7" y="1328.5" width="10.8" height="1.6" fill="#f6e6b0"/>
<rect x="539.8" y="894.5" width="10.6" height="30.5" fill="url(#sleeveV)"/>
<rect x="539.3" y="1356" width="11.6" height="33" rx="2.5" fill="url(#sleeveB)"/>
<rect x="565.9" y="924" width="9.6" height="434" fill="url(#rodV1)"/>
<rect x="565.9" y="924" width="9.6" height="434" fill="url(#rodV1g)"/>
<rect x="565.2" y="1303" width="10.8" height="27" fill="url(#rodV1)"/>
<rect x="565.2" y="1303" width="10.8" height="27" fill="#d8b048" opacity="0.35"/>
<rect x="565.2" y="1302.5" width="10.8" height="1.6" fill="#f6e6b0"/>
<rect x="565.2" y="1328.5" width="10.8" height="1.6" fill="#f6e6b0"/>
<rect x="565.4" y="894.5" width="10.6" height="30.5" fill="url(#sleeveV)"/>
<rect x="564.9" y="1356" width="11.6" height="33" rx="2.5" fill="url(#sleeveB)"/>
<rect x="591.4" y="924" width="9.6" height="434" fill="url(#rodV1)"/>
<rect x="591.4" y="924" width="9.6" height="434" fill="url(#rodV1g)"/>
<rect x="590.8" y="1303" width="10.8" height="27" fill="url(#rodV1)"/>
<rect x="590.8" y="1303" width="10.8" height="27" fill="#d8b048" opacity="0.35"/>
<rect x="590.8" y="1302.5" width="10.8" height="1.6" fill="#f6e6b0"/>
<rect x="590.8" y="1328.5" width="10.8" height="1.6" fill="#f6e6b0"/>
<rect x="590.9" y="894.5" width="10.6" height="30.5" fill="url(#sleeveV)"/>
<rect x="590.4" y="1356" width="11.6" height="33" rx="2.5" fill="url(#sleeveB)"/>
<rect x="617" y="924" width="9.6" height="434" fill="url(#rodV1)"/>
<rect x="617" y="924" width="9.6" height="434" fill="url(#rodV1g)"/>
<rect x="616.4" y="1303" width="10.8" height="27" fill="url(#rodV1)"/>
<rect x="616.4" y="1303" width="10.8" height="27" fill="#d8b048" opacity="0.35"/>
<rect x="616.4" y="1302.5" width="10.8" height="1.6" fill="#f6e6b0"/>
<rect x="616.4" y="1328.5" width="10.8" height="1.6" fill="#f6e6b0"/>
<rect x="616.5" y="894.5" width="10.6" height="30.5" fill="url(#sleeveV)"/>
<rect x="616" y="1356" width="11.6" height="33" rx="2.5" fill="url(#sleeveB)"/>
<rect x="642.5" y="924" width="9.6" height="434" fill="url(#rodV1)"/>
<rect x="642.5" y="924" width="9.6" height="434" fill="url(#rodV1g)"/>
<rect x="641.9" y="1303" width="10.8" height="27" fill="url(#rodV1)"/>
<rect x="641.9" y="1303" width="10.8" height="27" fill="#d8b048" opacity="0.35"/>
<rect x="641.9" y="1302.5" width="10.8" height="1.6" fill="#f6e6b0"/>
<rect x="641.9" y="1328.5" width="10.8" height="1.6" fill="#f6e6b0"/>
<rect x="642" y="894.5" width="10.6" height="30.5" fill="url(#sleeveV)"/>
<rect x="641.5" y="1356" width="11.6" height="33" rx="2.5" fill="url(#sleeveB)"/>
<rect x="668" y="924" width="9.6" height="434" fill="url(#rodV1)"/>
<rect x="668" y="924" width="9.6" height="434" fill="url(#rodV1g)"/>
<rect x="667.4" y="1303" width="10.8" height="27" fill="url(#rodV1)"/>
<rect x="667.4" y="1303" width="10.8" height="27" fill="#d8b048" opacity="0.35"/>
<rect x="667.4" y="1302.5" width="10.8" height="1.6" fill="#f6e6b0"/>
<rect x="667.4" y="1328.5" width="10.8" height="1.6" fill="#f6e6b0"/>
<rect x="667.5" y="894.5" width="10.6" height="30.5" fill="url(#sleeveV)"/>
<rect x="667" y="1356" width="11.6" height="33" rx="2.5" fill="url(#sleeveB)"/>
<rect x="845.2" y="614" width="402.7" height="26.7" fill="url(#stripR)"/>
<rect x="845.2" y="1360" width="402.7" height="27.4" fill="url(#stripR)"/>
<rect x="846" y="640" width="8.4" height="720" fill="url(#rodV2)"/>
<rect x="845.4" y="983.5" width="9.6" height="22" fill="url(#rodV2)" stroke="#a89050" stroke-width="0.6"/>
<rect x="845" y="613" width="11" height="28" rx="1.5" fill="url(#sleeveR)"/>
<rect x="845" y="1359.5" width="11" height="29.4" rx="2" fill="url(#sleeveR)"/>
<rect x="869.1" y="640" width="8.4" height="720" fill="url(#rodV2)"/>
<rect x="868.5" y="983.5" width="9.6" height="22" fill="url(#rodV2)" stroke="#a89050" stroke-width="0.6"/>
<rect x="868.1" y="613" width="11" height="28" rx="1.5" fill="url(#sleeveR)"/>
<rect x="868.1" y="1359.5" width="11" height="29.4" rx="2" fill="url(#sleeveR)"/>
<rect x="892.3" y="640" width="8.4" height="720" fill="url(#rodV2)"/>
<rect x="891.7" y="983.5" width="9.6" height="22" fill="url(#rodV2)" stroke="#a89050" stroke-width="0.6"/>
<rect x="891.3" y="613" width="11" height="28" rx="1.5" fill="url(#sleeveR)"/>
<rect x="891.3" y="1359.5" width="11" height="29.4" rx="2" fill="url(#sleeveR)"/>
<rect x="915.4" y="640" width="8.4" height="720" fill="url(#rodV2)"/>
<rect x="914.8" y="983.5" width="9.6" height="22" fill="url(#rodV2)" stroke="#a89050" stroke-width="0.6"/>
<rect x="914.4" y="613" width="11" height="28" rx="1.5" fill="url(#sleeveR)"/>
<rect x="914.4" y="1359.5" width="11" height="29.4" rx="2" fill="url(#sleeveR)"/>
<rect x="938.5" y="640" width="8.4" height="720" fill="url(#rodV2)"/>
<rect x="937.9" y="983.5" width="9.6" height="22" fill="url(#rodV2)" stroke="#a89050" stroke-width="0.6"/>
<rect x="937.5" y="613" width="11" height="28" rx="1.5" fill="url(#sleeveR)"/>
<rect x="937.5" y="1359.5" width="11" height="29.4" rx="2" fill="url(#sleeveR)"/>
<rect x="961.6" y="640" width="8.4" height="720" fill="url(#rodV2)"/>
<rect x="961" y="983.5" width="9.6" height="22" fill="url(#rodV2)" stroke="#a89050" stroke-width="0.6"/>
<rect x="960.6" y="613" width="11" height="28" rx="1.5" fill="url(#sleeveR)"/>
<rect x="960.6" y="1359.5" width="11" height="29.4" rx="2" fill="url(#sleeveR)"/>
<rect x="984.8" y="640" width="8.4" height="720" fill="url(#rodV2)"/>
<rect x="984.2" y="983.5" width="9.6" height="22" fill="url(#rodV2)" stroke="#a89050" stroke-width="0.6"/>
<rect x="983.8" y="613" width="11" height="28" rx="1.5" fill="url(#sleeveR)"/>
<rect x="983.8" y="1359.5" width="11" height="29.4" rx="2" fill="url(#sleeveR)"/>
<rect x="1007.9" y="640" width="8.4" height="720" fill="url(#rodV2)"/>
<rect x="1007.3" y="983.5" width="9.6" height="22" fill="url(#rodV2)" stroke="#a89050" stroke-width="0.6"/>
<rect x="1006.9" y="613" width="11" height="28" rx="1.5" fill="url(#sleeveR)"/>
<rect x="1006.9" y="1359.5" width="11" height="29.4" rx="2" fill="url(#sleeveR)"/>
<rect x="1031" y="640" width="8.4" height="720" fill="url(#rodV2)"/>
<rect x="1030.4" y="983.5" width="9.6" height="22" fill="url(#rodV2)" stroke="#a89050" stroke-width="0.6"/>
<rect x="1030" y="613" width="11" height="28" rx="1.5" fill="url(#sleeveR)"/>
<rect x="1030" y="1359.5" width="11" height="29.4" rx="2" fill="url(#sleeveR)"/>
<rect x="1054.2" y="640" width="8.4" height="720" fill="url(#rodV2)"/>
<rect x="1053.6" y="983.5" width="9.6" height="22" fill="url(#rodV2)" stroke="#a89050" stroke-width="0.6"/>
<rect x="1053.2" y="613" width="11" height="28" rx="1.5" fill="url(#sleeveR)"/>
<rect x="1053.2" y="1359.5" width="11" height="29.4" rx="2" fill="url(#sleeveR)"/>
<rect x="1077.3" y="640" width="8.4" height="720" fill="url(#rodV2)"/>
<rect x="1076.7" y="983.5" width="9.6" height="22" fill="url(#rodV2)" stroke="#a89050" stroke-width="0.6"/>
<rect x="1076.3" y="613" width="11" height="28" rx="1.5" fill="url(#sleeveR)"/>
<rect x="1076.3" y="1359.5" width="11" height="29.4" rx="2" fill="url(#sleeveR)"/>
<rect x="1100.4" y="640" width="8.4" height="720" fill="url(#rodV2)"/>
<rect x="1099.8" y="983.5" width="9.6" height="22" fill="url(#rodV2)" stroke="#a89050" stroke-width="0.6"/>
<rect x="1099.4" y="613" width="11" height="28" rx="1.5" fill="url(#sleeveR)"/>
<rect x="1099.4" y="1359.5" width="11" height="29.4" rx="2" fill="url(#sleeveR)"/>
<rect x="1123.6" y="640" width="8.4" height="720" fill="url(#rodV2)"/>
<rect x="1123" y="983.5" width="9.6" height="22" fill="url(#rodV2)" stroke="#a89050" stroke-width="0.6"/>
<rect x="1122.6" y="613" width="11" height="28" rx="1.5" fill="url(#sleeveR)"/>
<rect x="1122.6" y="1359.5" width="11" height="29.4" rx="2" fill="url(#sleeveR)"/>
<rect x="1146.7" y="640" width="8.4" height="720" fill="url(#rodV2)"/>
<rect x="1146.1" y="983.5" width="9.6" height="22" fill="url(#rodV2)" stroke="#a89050" stroke-width="0.6"/>
<rect x="1145.7" y="613" width="11" height="28" rx="1.5" fill="url(#sleeveR)"/>
<rect x="1145.7" y="1359.5" width="11" height="29.4" rx="2" fill="url(#sleeveR)"/>
<rect x="1169.8" y="640" width="8.4" height="720" fill="url(#rodV2)"/>
<rect x="1169.2" y="983.5" width="9.6" height="22" fill="url(#rodV2)" stroke="#a89050" stroke-width="0.6"/>
<rect x="1168.8" y="613" width="11" height="28" rx="1.5" fill="url(#sleeveR)"/>
<rect x="1168.8" y="1359.5" width="11" height="29.4" rx="2" fill="url(#sleeveR)"/>
<rect x="1193" y="640" width="8.4" height="720" fill="url(#rodV2)"/>
<rect x="1192.4" y="983.5" width="9.6" height="22" fill="url(#rodV2)" stroke="#a89050" stroke-width="0.6"/>
<rect x="1192" y="613" width="11" height="28" rx="1.5" fill="url(#sleeveR)"/>
<rect x="1192" y="1359.5" width="11" height="29.4" rx="2" fill="url(#sleeveR)"/>
<rect x="1216.1" y="640" width="8.4" height="720" fill="url(#rodV2)"/>
<rect x="1215.5" y="983.5" width="9.6" height="22" fill="url(#rodV2)" stroke="#a89050" stroke-width="0.6"/>
<rect x="1215.1" y="613" width="11" height="28" rx="1.5" fill="url(#sleeveR)"/>
<rect x="1215.1" y="1359.5" width="11" height="29.4" rx="2" fill="url(#sleeveR)"/>
<rect x="1239.2" y="640" width="8.4" height="720" fill="url(#rodV2)"/>
<rect x="1238.6" y="983.5" width="9.6" height="22" fill="url(#rodV2)" stroke="#a89050" stroke-width="0.6"/>
<rect x="1238.2" y="613" width="11" height="28" rx="1.5" fill="url(#sleeveR)"/>
<rect x="1238.2" y="1359.5" width="11" height="29.4" rx="2" fill="url(#sleeveR)"/>
<line x1="176" y1="892.7" x2="232.6" y2="892.7" stroke="#8aa9bb" stroke-width="2"/>
<line x1="204.6" y1="893" x2="204.6" y2="975.3" stroke="#8aa9bb" stroke-width="2"/>
<line x1="201.6" y1="1297.8" x2="201.6" y2="1390.3" stroke="#8aa9bb" stroke-width="2"/>
<line x1="176.5" y1="1390.3" x2="233.4" y2="1390.3" stroke="#8aa9bb" stroke-width="2"/>
<rect x="212" y="1406" width="200" height="29.4" fill="#e9e9e9"/>
<line x1="233.4" y1="1390.3" x2="233.4" y2="1447" stroke="#8aa9bb" stroke-width="2"/>
<line x1="233.4" y1="1415.5" x2="390.3" y2="1415.5" stroke="#80a8c6" stroke-width="2"/>
<line x1="520" y1="1415.5" x2="681" y2="1415.5" stroke="#80a8c6" stroke-width="2"/>
<line x1="681" y1="1390" x2="681" y2="1445.7" stroke="#8aa9bb" stroke-width="2"/>
<line x1="750.4" y1="612.9" x2="840.8" y2="612.9" stroke="#8aa9bb" stroke-width="2"/>
<line x1="783.2" y1="613" x2="783.2" y2="784.4" stroke="#8aa9bb" stroke-width="2"/>
<line x1="783.2" y1="1139.2" x2="783.2" y2="1381.1" stroke="#8aa9bb" stroke-width="2"/>
<line x1="752.5" y1="1381.1" x2="845.2" y2="1381.1" stroke="#8aa9bb" stroke-width="2"/>
<line x1="843.8" y1="1381.5" x2="843.8" y2="1446.6" stroke="#8aa9bb" stroke-width="2"/>
<line x1="845" y1="1418.4" x2="957.7" y2="1418.4" stroke="#80a8c6" stroke-width="2"/>
<line x1="1096.8" y1="1418.4" x2="1248.5" y2="1418.4" stroke="#80a8c6" stroke-width="2"/>
<line x1="1248.9" y1="1383" x2="1248.9" y2="1449.8" stroke="#8aa9bb" stroke-width="2"/>
<text x="400.6" y="1427.2" style="font-family:'Liberation Sans',sans-serif;font-size:31px" fill="#72aede" textLength="112" lengthAdjust="spacingAndGlyphs">12.79 in</text>
<text x="976.6" y="1427.3" style="font-family:'Liberation Sans',sans-serif;font-size:31px" fill="#72aede" textLength="112.3" lengthAdjust="spacingAndGlyphs">12.79 in</text>
<text transform="translate(195.7,980.2) rotate(90)" style="font-family:'Liberation Sans',sans-serif;font-size:30px" fill="#72aede" textLength="316.2" lengthAdjust="spacingAndGlyphs">Before Stretching 12.6</text>
<text transform="translate(775.5,791.5) rotate(90)" style="font-family:'Liberation Sans',sans-serif;font-size:30.5px" fill="#72aede" textLength="327.2" lengthAdjust="spacingAndGlyphs">After Stretching 21.5 in</text>
<rect x="1444" y="1425" width="1" height="6" fill="#5a6a66"/>
<rect x="1444" y="1436.7" width="1" height="2.3" fill="#5a6a66"/>
</svg>
</body></html>
